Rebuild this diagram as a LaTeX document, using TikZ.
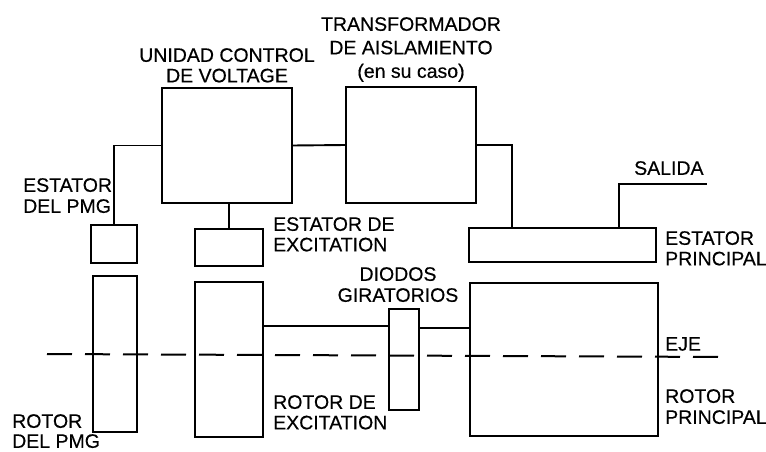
\documentclass[tikz,border=0pt]{standalone}
\usepackage{fontspec}
\newfontfamily\labfont[FakeBold=0.4]{Liberation Sans}
\usetikzlibrary{calc}
\begin{document}
\begin{tikzpicture}[x=1pt,y=-1pt,
  box/.style={draw,line width=1.9pt,inner sep=0pt,outer sep=0pt,anchor=north west},
  wire/.style={line width=1.9pt},
  axis/.style={line width=2pt,dash pattern=on 25pt off 13pt},
  lab/.style={font=\labfont\fontsize{19.5}{20.5}\selectfont,inner sep=0pt,anchor=north west,align=left},
  labc/.style={lab,anchor=north,align=center}]
\useasboundingbox (0,0) rectangle (766,452);
% boxes
\node[box,minimum width=46pt,minimum height=38pt] (pmgS) at (91,225) {};
\node[box,minimum width=44pt,minimum height=156pt] (pmgR) at (93,276) {};
\node[box,minimum width=130pt,minimum height=115pt] (ucv) at (162,88) {};
\node[box,minimum width=130pt,minimum height=116pt] (tr) at (346,87) {};
\node[box,minimum width=68pt,minimum height=37pt] (excS) at (195,229) {};
\node[box,minimum width=68pt,minimum height=155pt] (excR) at (195,282) {};
\node[box,minimum width=30pt,minimum height=101pt] (diode) at (389,309) {};
\node[box,minimum width=187pt,minimum height=34pt] (mainS) at (469,228) {};
\node[box,minimum width=188pt,minimum height=153pt] (mainR) at (470,283) {};
% connector points
\coordinate (mSin) at (512,228);
\coordinate (mSout) at (619,228);
\coordinate (out) at (707,184);
\coordinate (axL) at (47,354);
\coordinate (axR) at (725,357);
% connectors
\draw[wire] (pmgS.north) |- (ucv.west);
\draw[wire] (ucv.east) -- (tr.west);
\draw[wire] (excS.north) -- (excS.north |- ucv.south);
\draw[wire] (tr.east) -| (mSin);
\draw[wire] (mSout) |- (out);
\draw[wire] (excR.east |- 0,326) -- (diode.west |- 0,326);
\draw[wire] (diode.east |- 0,328) -- (mainR.west |- 0,328);
\draw[axis] (axL) -- (axR);
% labels
\node[labc] (lucv) at (227,48) {UNIDAD CONTROL\\DE VOLTAGE};
\node[labc,font=\labfont\fontsize{19.5}{23.5}\selectfont] (ltr) at (411,17) {TRANSFORMADOR\\DE AISLAMIENTO\\(en su caso)};
\node[lab,font=\labfont\fontsize{19.5}{21}\selectfont] (lpmgS) at (23,178) {ESTATOR\\DEL PMG};
\node[lab,font=\labfont\fontsize{19.5}{20}\selectfont] (lpmgR) at (12,414) {ROTOR\\DEL PMG};
\node[lab] (lexcS) at (273,217) {ESTATOR DE\\EXCITATION};
\node[labc,font=\labfont\fontsize{19.5}{21}\selectfont] (ldio) at (398,267) {DIODOS\\GIRATORIOS};
\node[lab] (lexcR) at (273,395) {ROTOR DE\\EXCITATION};
\node[lab] (lsal) at (634,161) {SALIDA};
\node[lab] (lmainS) at (665,231) {ESTATOR\\PRINCIPAL};
\node[lab] (leje) at (665,337) {EJE};
\node[lab,font=\labfont\fontsize{19.5}{21}\selectfont] (lmainR) at (665,389) {ROTOR\\PRINCIPAL};
\end{tikzpicture}
\end{document}
